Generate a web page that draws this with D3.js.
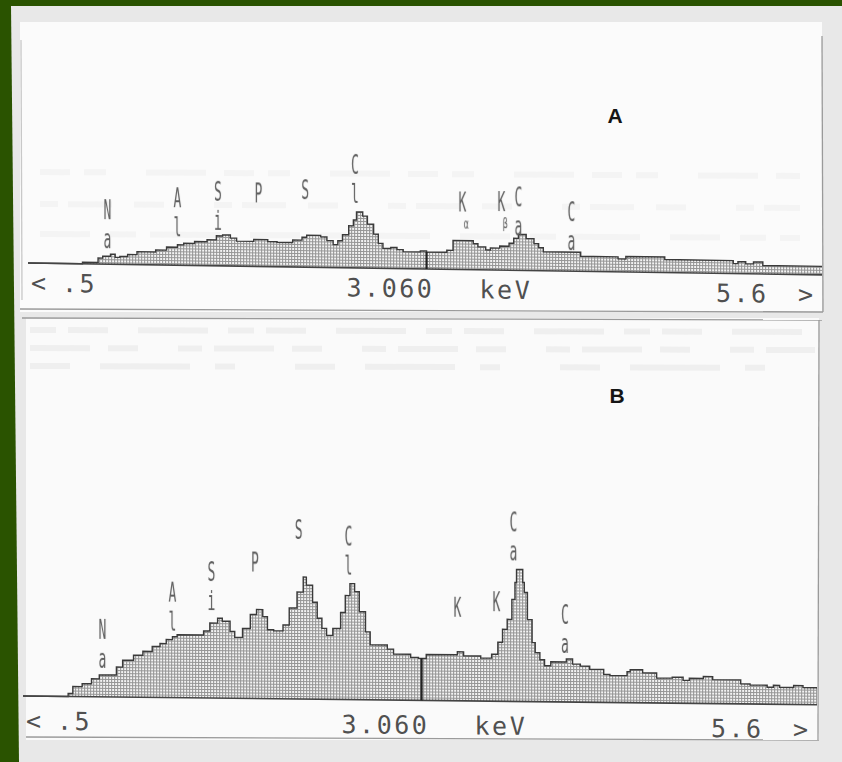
<!DOCTYPE html>
<html>
<head>
<meta charset="utf-8">
<script src="https://cdnjs.cloudflare.com/ajax/libs/d3/7.8.5/d3.min.js"></script>
<style>
  body { margin: 0; background: #2a5300; }
  svg { display: block; }
  text { -webkit-font-smoothing: antialiased; }
</style>
</head>
<body>
<svg id="chart" width="842" height="762"></svg>
<script>
// energy window of the analyser display (keV) and cursor position
const energyDomain = [0.5, 5.6];
const cursorKeV = 3.06;

// spectrum A : step edges (keV) and count level of each step
const aEdges = [0.5, 0.85, 0.95, 0.98, 1.03, 1.06, 1.09, 1.14, 1.20, 1.32, 1.39, 1.46, 1.50, 1.57, 1.65, 1.71,
  1.75, 1.80, 1.84, 1.95, 2.04, 2.10, 2.20, 2.26, 2.29, 2.38, 2.42, 2.46, 2.49, 2.52, 2.56, 2.59, 2.61, 2.65,
  2.68, 2.72, 2.75, 2.78, 2.83, 2.87, 2.91, 3.02, 3.06, 3.19, 3.23, 3.36, 3.39, 3.44, 3.47, 3.53, 3.59, 3.62,
  3.65, 3.70, 3.75, 3.78, 3.81, 4.05, 4.29, 4.34, 4.59, 5.03, 5.06, 5.11, 5.16, 5.22, 5.6];
const aCounts = [0, 1.5, 6, 8, 10, 7, 8, 10, 13, 15, 18, 20.5, 22, 24, 26, 30,
  31, 28, 25, 27, 25, 24.5, 27, 30, 32, 30.5, 27, 23, 27, 33, 42, 48, 56,
  52, 44, 34, 25, 20, 21, 19, 17, 18, 17, 19, 29, 26, 23, 20, 22, 24, 27,
  32, 36, 32, 27, 23, 19, 15, 13, 15.5, 13, 10, 12, 10, 12, 8.5];

// spectrum B
const bEdges = [0.5, 0.79, 0.82, 0.88, 0.94, 0.99, 1.10, 1.14, 1.21, 1.27, 1.33, 1.38, 1.42, 1.46, 1.49, 1.66,
  1.70, 1.75, 1.78, 1.83, 1.86, 1.91, 1.96, 2.00, 2.04, 2.07, 2.11, 2.17, 2.21, 2.26, 2.30, 2.32, 2.36, 2.39,
  2.42, 2.45, 2.49, 2.54, 2.57, 2.60, 2.63, 2.66, 2.70, 2.73, 2.84, 2.88, 2.99, 3.04, 3.09, 3.29, 3.33, 3.44,
  3.51, 3.55, 3.58, 3.61, 3.64, 3.66, 3.67, 3.71, 3.72, 3.74, 3.77, 3.79, 3.82, 3.85, 3.89, 3.99, 4.03, 4.08,
  4.14, 4.23, 4.27, 4.38, 4.40, 4.48, 4.57, 4.67, 4.74, 4.78, 4.87, 4.93, 5.11, 5.17, 5.28, 5.32, 5.36, 5.45,
  5.51, 5.60];
const bCounts = [0, 3, 10, 13, 18, 22, 30, 37, 42, 46, 51, 54, 58, 61, 63, 67, 75, 80, 77, 67,
  61, 70, 84, 89, 82, 69, 68, 74, 91, 107, 122, 114, 97, 81, 71, 64, 71, 87, 104, 116,
  108, 88, 68, 55, 51, 46, 43, 42, 46, 49, 45, 43, 47, 59, 72, 82, 102, 119, 132, 119,
  109, 82, 59, 49, 42, 36, 40, 43, 38, 36, 33, 28, 27, 31, 33, 30, 25, 26, 23, 25,
  27, 24, 20, 19, 17, 19, 17, 19, 17];

// peak identification labels (symbol, energy, count level of the label)
const aPeakNames = ['Na', 'Al', 'Si', 'P', 'S', 'Cl', 'Kα', 'Kβ', 'Ca', 'Ca'];
const aPeakKeV = [1.01, 1.46, 1.72, 1.98, 2.28, 2.60, 3.29, 3.54, 3.65, 3.99];
const aPeakLevel = [54, 67, 74, 73, 77, 103, 67, 68, 73, 59];

const bPeakNames = ['Na', 'Al', 'Si', 'P', 'S', 'Cl', 'K', 'K', 'Ca', 'Ca'];
const bPeakKeV = [1.01, 1.46, 1.71, 1.99, 2.27, 2.59, 3.29, 3.54, 3.65, 3.98];
const bPeakLevel = [67, 105, 126, 136, 169, 163, 93, 99, 179, 87];

const panelTitles = ['A', 'B'];

const svg = d3.select('#chart');

// hatch fill like the screen dot grid
const defs = svg.append('defs');
const pat = defs.append('pattern').attr('id', 'grid')
  .attr('width', 3).attr('height', 3).attr('patternUnits', 'userSpaceOnUse');
pat.append('rect').attr('width', 3).attr('height', 3).attr('fill', '#f4f4f4');
pat.append('path').attr('d', 'M0 0.5H3M0.5 0V3').attr('stroke', '#959595').attr('stroke-width', 1);

// paper
svg.append('polygon')
  .attr('points', '11,6 842,6 842,762 19,762')
  .attr('fill', '#e8e8e8');
svg.append('rect').attr('x', 20).attr('y', 22).attr('width', 802).attr('height', 290).attr('fill', '#fbfbfb');
svg.append('rect').attr('x', 26).attr('y', 318).attr('width', 793).attr('height', 422).attr('fill', '#fafafa');

// faint show-through from the back of the print
const ghost = svg.append('g').attr('fill', 'none');
[[172, '30 14 22 40 60 18'], [204, '18 10 44 22 30 50'], [234, '50 20 26 14 70 30']].forEach(([gy, dash]) => {
  ghost.append('line').attr('x1', 40).attr('x2', 800).attr('y1', gy).attr('y2', gy + 4)
    .attr('stroke', '#f4f4f4').attr('stroke-width', 6).attr('stroke-dasharray', dash);
});
[[330, '26 12 40 30 70 20'], [348, '60 18 30 40 24 12'], [366, '40 30 90 25 20 60']].forEach(([gy, dash]) => {
  ghost.append('line').attr('x1', 30).attr('x2', 815).attr('y1', gy).attr('y2', gy + 2)
    .attr('stroke', '#efefef').attr('stroke-width', 6).attr('stroke-dasharray', dash);
});

// box rules
const rules = svg.append('g').attr('stroke', '#9a9a9a').attr('stroke-width', 1.3).attr('fill', 'none');
rules.append('line').attr('x1', 822).attr('x2', 823).attr('y1', 36).attr('y2', 312);
rules.append('line').attr('x1', 20).attr('x2', 823).attr('y1', 309).attr('y2', 312);
rules.append('line').attr('x1', 22).attr('x2', 822).attr('y1', 318).attr('y2', 320);
rules.append('line').attr('x1', 819).attr('x2', 818).attr('y1', 320).attr('y2', 740);
rules.append('line').attr('x1', 26).attr('x2', 819).attr('y1', 737).attr('y2', 740);
rules.append('line').attr('x1', 21).attr('x2', 22).attr('y1', 40).attr('y2', 300)
  .attr('stroke', '#c8c8c8');

function drawPanel(cfg) {
  const k = cfg.skew;
  const g = svg.append('g')
    .attr('transform', `matrix(1,${k},0,1,0,${-k * cfg.x0})`);

  const x = d3.scaleLinear().domain(energyDomain).range([cfg.x0, cfg.x0 + 794]);
  const y = d3.scaleLinear().domain([0, 100]).range([cfg.base, cfg.base - 100]);

  const pts = cfg.edges.map((e, i) => [e, cfg.counts[Math.min(i, cfg.counts.length - 1)]]);

  const area = d3.area().curve(d3.curveStepAfter)
    .x(d => x(d[0])).y0(y(0)).y1(d => y(d[1]));
  const line = d3.line().curve(d3.curveStepAfter)
    .x(d => x(d[0])).y(d => y(d[1]));

  g.append('path').datum(pts).attr('d', area).attr('fill', 'url(#grid)');
  g.append('path').datum(pts).attr('d', line)
    .attr('fill', 'none').attr('stroke', '#3a3a3a').attr('stroke-width', 1.4);
  // base line
  g.append('line').attr('x1', x(energyDomain[0])).attr('x2', x(energyDomain[1]))
    .attr('y1', y(0)).attr('y2', y(0)).attr('stroke', '#444').attr('stroke-width', 1.6);

  // cursor
  const idx = d3.bisectRight(cfg.edges, cursorKeV) - 1;
  g.append('line').attr('x1', x(cursorKeV)).attr('x2', x(cursorKeV))
    .attr('y1', y(0)).attr('y2', y(cfg.counts[idx]))
    .attr('stroke', '#222').attr('stroke-width', 2.2);

  // peak labels
  const lab = g.append('g').attr('fill', '#5c5c5c').attr('opacity', 0.99)
    .attr('font-family', 'DejaVu Sans Mono, monospace').attr('text-anchor', 'middle')
    .attr('dominant-baseline', 'central');
  cfg.names.forEach((name, i) => {
    const px = x(cfg.keV[i]), py = y(cfg.level[i]);
    lab.append('text').attr('transform', `translate(${px},${py}) scale(0.5,1)`)
      .attr('font-size', 26).text(name[0]);
    if (name.length > 1) {
      const greek = /[αβ]/.test(name[1]);
      if (greek) {
        lab.append('text').attr('transform', `translate(${px + 4},${py + 21}) scale(0.6,1)`)
          .attr('font-size', 14).text(name[1]);
      } else {
        lab.append('text').attr('transform', `translate(${px},${py + 29}) scale(0.5,1)`)
          .attr('font-size', 26).text(name[1]);
      }
    }
  });

  // scale readout row
  const row = g.append('g').attr('fill', '#4e4e4e').attr('opacity', 0.99)
    .attr('font-family', 'DejaVu Sans Mono, monospace').attr('font-size', 25)
    .attr('letter-spacing', 2.5).attr('dominant-baseline', 'central');
  const ty = cfg.textY;
  row.append('text').attr('x', cfg.x0 + 3).attr('y', ty).text('<');
  row.append('text').attr('x', cfg.x0 + 34).attr('y', ty).text('.5');
  row.append('text').attr('x', x(cursorKeV) - 80).attr('y', ty).text(d3.format('.3f')(cursorKeV));
  row.append('text').attr('x', x(cursorKeV) + 53).attr('y', ty).text('keV');
  row.append('text').attr('x', cfg.x0 + 688).attr('y', ty).text('5.6');
  row.append('text').attr('x', cfg.x0 + 770).attr('y', ty).text('>');
}

drawPanel({ edges: aEdges, counts: aCounts, names: aPeakNames, keV: aPeakKeV, level: aPeakLevel,
  x0: 28, base: 263, skew: 0.015, textY: 283 });
drawPanel({ edges: bEdges, counts: bCounts, names: bPeakNames, keV: bPeakKeV, level: bPeakLevel,
  x0: 23, base: 696, skew: 0.011, textY: 721 });

// panel letters
svg.append('g').attr('font-family', 'Liberation Sans, Arial, sans-serif').attr('font-weight', 'bold')
  .attr('font-size', 21).attr('fill', '#151515').attr('text-anchor', 'middle')
  .selectAll('text').data(panelTitles).join('text')
  .attr('x', (d, i) => [615, 617][i])
  .attr('y', (d, i) => [123, 403][i])
  .text(d => d);
</script>
</body>
</html>
